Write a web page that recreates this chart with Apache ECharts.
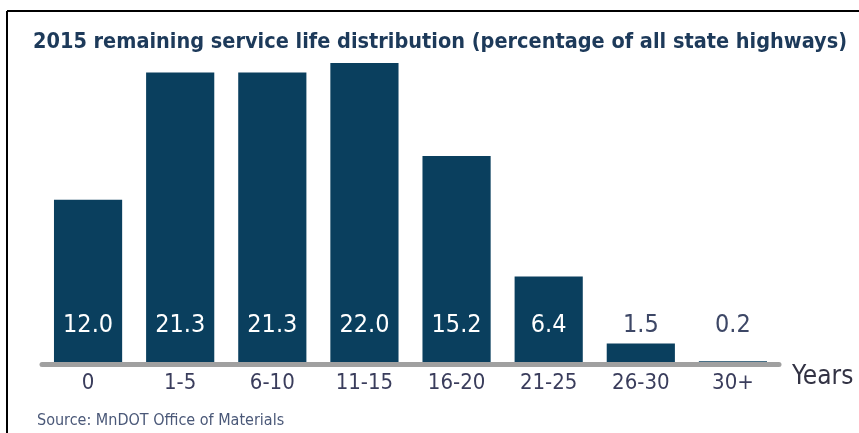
<!DOCTYPE html>
<html>
<head>
<meta charset="utf-8">
<script src="https://cdn.jsdelivr.net/npm/echarts@6/dist/echarts.min.js"></script>
<style>
  html, body { margin: 0; padding: 0; background: #fff; }
  #chart { width: 859px; height: 433px; }
</style>
</head>
<body>
<div id="chart"></div>
<script>
  // remaining service life buckets (years) and share of state highways (%)
  const categories = ['0', '1-5', '6-10', '11-15', '16-20', '21-25', '26-30', '30+'];
  const values = [12.0, 21.3, 21.3, 22.0, 15.2, 6.4, 1.5, 0.2];
  const titleText = '2015 remaining service life distribution (percentage of all state highways)';
  const sourceText = 'Source: MnDOT Office of Materials';

  const font = '"Liberation Sans Narrow", "DejaVu Sans Condensed", "Roboto Condensed", sans-serif';
  const barColor = '#0a3f5e';

  let myChart = echarts.init(document.getElementById('chart'));

  let data = values.map(function (v) {
    return {
      value: v,
      label: { color: v < 3 ? '#3d4766' : '#ffffff' }
    };
  });

  let option = {
    animation: false,
    textStyle: { fontFamily: font },
    title: {
      text: titleText,
      left: 28,
      top: 26,
      textStyle: { fontFamily: font, fontWeight: 'bold', fontSize: 21.5, color: '#1d3a5a' }
    },
    graphic: [
      { type: 'line', shape: { x1: 7, y1: 11, x2: 859, y2: 11 }, style: { stroke: '#000', lineWidth: 2 } },
      { type: 'line', shape: { x1: 7, y1: 11, x2: 7, y2: 433 }, style: { stroke: '#000', lineWidth: 2 } },
      {
        type: 'text', left: 37, top: 413,
        style: { text: sourceText, fontFamily: font, fontSize: 16, fill: '#4a5878' }
      }
    ],
    grid: { left: 42, right: 80, top: 63, bottom: 69 },
    xAxis: {
      type: 'category',
      data: categories,
      z: 5,
      name: 'Years',
      nameLocation: 'end',
      nameGap: 13,
      nameTextStyle: { fontFamily: font, fontSize: 26, color: '#333344', verticalAlign: 'top', padding: [0, 0, 0, 0] },
      axisLine: { lineStyle: { color: '#a0a0a0', width: 5 } },
      axisTick: { show: false },
      axisLabel: { fontFamily: font, fontSize: 22, color: '#3a3d5c', margin: 8 }
    },
    yAxis: {
      type: 'value',
      min: 0,
      max: 22,
      show: false
    },
    series: [
      {
        type: 'bar',
        data: data,
        barCategoryGap: '26%',
        itemStyle: { color: barColor },
        label: {
          show: true,
          position: 'insideBottom',
          distance: 26,
          fontFamily: font,
          fontSize: 25,
          lineHeight: 26,
          formatter: function (p) { return p.value.toFixed(1); }
        }
      }
    ]
  };
  myChart.setOption(option);
  window.addEventListener('resize', () => { myChart.resize() });
</script>
</body>
</html>
